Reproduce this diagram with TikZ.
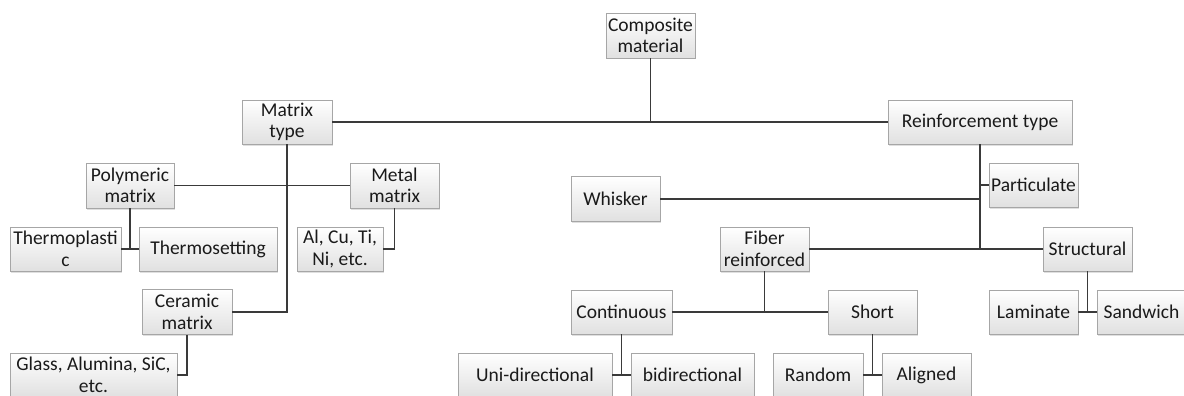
\documentclass[tikz,border=0pt]{standalone}
\usepackage{fontspec}
\setmainfont{Carlito}
\usetikzlibrary{shadows}
\definecolor{txt}{HTML}{1A1A1A}
\definecolor{edge}{HTML}{A6A6A6}
\definecolor{wire}{HTML}{3A3A3A}
\begin{document}
\begin{tikzpicture}[x=1pt,y=-1pt,
  box/.style={draw=edge, line width=0.7pt, top color=white, bottom color=black!12,
    drop shadow={shadow xshift=1pt, shadow yshift=-1.5pt, opacity=0.25},
    text=txt, align=center, inner sep=1pt, minimum height=44pt,
    font=\fontsize{19.5}{21.5}\selectfont},
  wire/.style={draw=wire, line width=1.4pt}]
\useasboundingbox (0,0) rectangle (1184,396);
\clip (0,0) rectangle (1184,396);
% nodes
\node[box, minimum width=89pt, minimum height=45pt] (comp) at (650.5,35.5) {Composite\\material};
\node[box, minimum width=90pt] (matrix) at (287,122) {Matrix\\type};
\node[box, minimum width=184pt] (reinf) at (980,122) {Reinforcement type};
\node[box, minimum width=88pt, minimum height=45pt] (poly) at (130,185.5) {Polymeric\\matrix};
\node[box, minimum width=89pt, minimum height=45pt] (metal) at (394.5,185.5) {Metal\\matrix};
\node[box, minimum width=89pt, minimum height=45pt] (whisker) at (615.5,199) {Whisker};
\node[box, minimum width=89pt] (partic) at (1033.5,185) {Particulate};
\node[box, minimum width=111pt] (tplast) at (65.5,249) {Thermoplasti\\c};
\node[box, minimum width=138pt] (tset) at (208,249) {Thermosetting};
\node[box, minimum width=86pt] (alcu) at (340,249) {Al, Cu, Ti,\\Ni, etc.};
\node[box, minimum width=89pt] (fiber) at (764.5,249) {Fiber\\reinforced};
\node[box, minimum width=89pt] (struct) at (1087.5,249) {Structural};
\node[box, minimum width=90pt, minimum height=45pt] (ceramic) at (187,312) {Ceramic\\matrix};
\node[box, minimum width=101pt] (cont) at (621.5,312) {Continuous};
\node[box, minimum width=89pt] (short) at (872.5,312) {Short};
\node[box, minimum width=89pt] (lam) at (1033.5,312) {Laminate};
\node[box, minimum width=89pt] (sand) at (1141.5,312) {Sandwich};
\node[box, minimum width=167pt] (glass) at (93.5,375) {Glass, Alumina, SiC,\\etc.};
\node[box, minimum width=154pt] (uni) at (535,375) {Uni-directional};
\node[box, minimum width=123pt] (bidir) at (692.5,375) {bidirectional};
\node[box, minimum width=90pt] (random) at (818,375) {Random};
\node[box, minimum width=89pt] (aligned) at (926.5,375) {Aligned};
% connectors
\draw[wire] (matrix.east) -- (reinf.west);
\draw[wire] (comp.south) -- (comp.south |- matrix.east);
\draw[wire] (matrix.south) |- (ceramic.east);
\draw[wire] (poly.east) -- (metal.west);
\draw[wire] (poly.south) -- (poly.south |- tset.west);
\draw[wire] (tplast.east) -- (tset.west);
\draw[wire] (metal.south) |- (alcu.east);
\draw[wire] (ceramic.south) |- (glass.east);
\draw[wire] (reinf.south) -- (reinf.south |- fiber.east);
\draw[wire] (whisker.east) -- (reinf.south |- whisker.east);
\draw[wire] (reinf.south |- partic.west) -- (partic.west);
\draw[wire] (fiber.east) -- (struct.west);
\draw[wire] (fiber.south) -- (fiber.south |- cont.east);
\draw[wire] (cont.east) -- (short.west);
\draw[wire] (cont.south) -- (cont.south |- uni.east);
\draw[wire] (uni.east) -- (bidir.west);
\draw[wire] (short.south) -- (short.south |- random.east);
\draw[wire] (random.east) -- (aligned.west);
\draw[wire] (struct.south) -- (struct.south |- lam.east);
\draw[wire] (lam.east) -- (sand.west);
\end{tikzpicture}
\end{document}
